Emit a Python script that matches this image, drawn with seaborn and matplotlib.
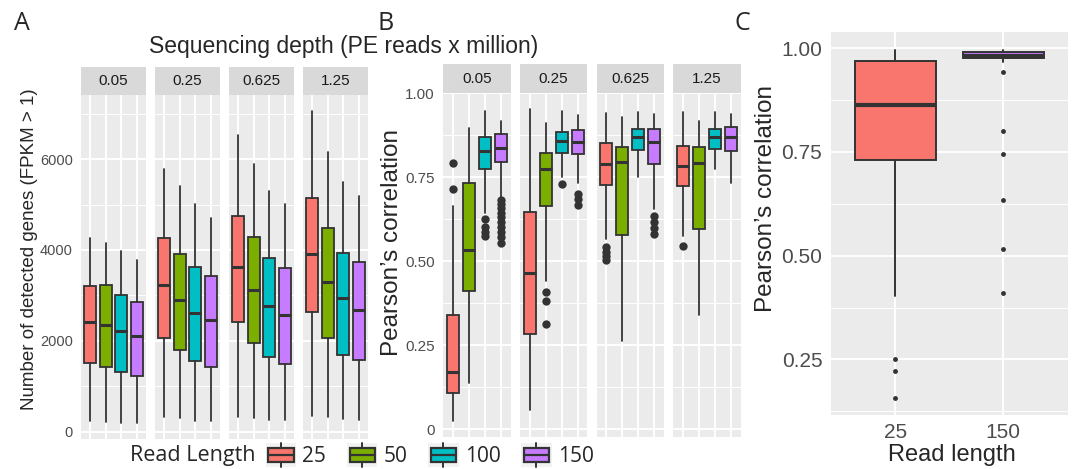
import numpy as np
import seaborn as sns
import matplotlib
matplotlib.use('Agg')
import matplotlib.pyplot as plt
from matplotlib.patches import Rectangle, Patch
from matplotlib.lines import Line2D
from matplotlib.legend_handler import HandlerBase
from matplotlib.ticker import FixedLocator

depths = ['0.05', '0.25', '0.625', '1.25']
read_lengths = ['25', '50', '100', '150']

# panel A - detected genes, one row per depth, one value per read length
genes_low = [[242, 220, 198, 198], [315, 293, 242, 227], [329, 300, 263, 263], [351, 315, 278, 263]]
genes_q1 = [[1509, 1421, 1319, 1216], [2066, 1795, 1560, 1421], [2415, 1961, 1654, 1493], [2642, 2071, 1698, 1581]]
genes_med = [[2418, 2352, 2212, 2110], [3223, 2894, 2623, 2454], [3622, 3125, 2766, 2569], [3915, 3300, 2934, 2678]]
genes_q3 = [[3209, 3223, 3004, 2864], [4256, 3919, 3626, 3421], [4757, 4281, 3827, 3593], [5137, 4486, 3944, 3725]]
genes_high = [[4271, 4154, 3971, 3773], [5787, 5407, 5004, 4703], [6535, 5884, 5298, 5020], [7047, 6154, 5503, 5188]]

# panel B - pearson correlation
corr_low = [[0.026, 0.139, 0.643, 0.690], [0.058, 0.441, 0.752, 0.732], [0.566, 0.263, 0.752, 0.655], [0.575, 0.340, 0.774, 0.732]]
corr_q1 = [[0.107, 0.413, 0.774, 0.797], [0.283, 0.666, 0.824, 0.821], [0.726, 0.579, 0.831, 0.790], [0.724, 0.595, 0.833, 0.830]]
corr_med = [[0.170, 0.534, 0.829, 0.836], [0.466, 0.774, 0.858, 0.856], [0.791, 0.796, 0.869, 0.855], [0.784, 0.792, 0.869, 0.869]]
corr_q3 = [[0.340, 0.732, 0.871, 0.878], [0.648, 0.824, 0.886, 0.891], [0.852, 0.841, 0.895, 0.895], [0.843, 0.840, 0.895, 0.900]]
corr_high = [[0.666, 0.896, 0.948, 0.919], [0.953, 0.911, 0.948, 0.935], [0.943, 0.929, 0.945, 0.938], [0.946, 0.918, 0.944, 0.939]]
corr_fliers = [
    [[0.793, 0.715], [], [0.626, 0.602, 0.587, 0.575],
     [0.682, 0.670, 0.658, 0.645, 0.632, 0.618, 0.603, 0.588, 0.573, 0.556]],
    [[], [0.408, 0.383, 0.314], [0.731], [0.702, 0.685, 0.668]],
    [[0.544, 0.529, 0.515, 0.504], [], [], [0.635, 0.618, 0.600, 0.583]],
    [[0.547], [], [], []],
]

# panel C
c_labels = ['25', '150']
c_low = [0.404, 0.968]
c_q1 = [0.731, 0.976]
c_med = [0.864, 0.982]
c_q3 = [0.969, 0.990]
c_high = [0.996, 0.996]
c_fliers = [[0.252, 0.222, 0.158], [0.944, 0.801, 0.746, 0.634, 0.515, 0.409]]

colors = ['#F8766D', '#7CAE00', '#00BFC4', '#C77CFF']
ink = '#333333'

sns.set_theme(style='darkgrid', rc={'axes.facecolor': '#EBEBEB', 'grid.color': 'white'})
plt.rcParams['font.family'] = ['Liberation Sans', 'DejaVu Sans']

W, H = 1072, 469
fig = plt.figure(figsize=(W / 100, H / 100), dpi=100)
fig.patch.set_facecolor('white')


def px_axes(x0, y0, x1, y1):
    return fig.add_axes([x0 / W, 1 - y1 / H, (x1 - x0) / W, (y1 - y0) / H])


def make_stats(lo, q1, med, q3, hi, fl=None):
    out = []
    for i in range(len(lo)):
        out.append(dict(whislo=lo[i], q1=q1[i], med=med[i], q3=q3[i], whishi=hi[i],
                        fliers=fl[i] if fl else []))
    return out


def draw_boxes(ax, stats, cols, lw=1.3, med_lw=2.2, fsize=6):
    bp = ax.bxp(stats, positions=np.arange(len(stats)), widths=0.75, patch_artist=True,
                showcaps=False,
                boxprops=dict(edgecolor=ink, linewidth=lw),
                whiskerprops=dict(color=ink, linewidth=lw),
                medianprops=dict(color=ink, linewidth=med_lw, solid_capstyle='butt'),
                flierprops=dict(marker='o', markerfacecolor=ink, markeredgecolor='none',
                                markersize=fsize))
    for patch, c in zip(bp['boxes'], cols):
        patch.set_facecolor(c)


def style(ax, n, ylim, yticks, ylabels, minor, show_y, lsize=10.5):
    ax.set_facecolor('#EBEBEB')
    for s in ax.spines.values():
        s.set_visible(False)
    ax.set_xlim(-0.6, n - 0.4)
    ax.set_ylim(ylim)
    ax.set_xticks(np.arange(n))
    ax.set_yticks(yticks)
    ax.set_yticklabels(ylabels)
    ax.yaxis.set_minor_locator(FixedLocator(minor))
    ax.grid(True, which='major', color='white', linewidth=1.4)
    ax.grid(True, which='minor', axis='y', color='white', linewidth=0.7)
    ax.set_axisbelow(True)
    ax.tick_params(which='minor', length=0)
    ax.tick_params(axis='x', length=0, labelbottom=False)
    ax.tick_params(axis='y', length=4 if show_y else 0, width=1.1, color=ink,
                   labelsize=lsize, labelcolor='#4D4D4D', pad=2, labelleft=show_y)


def strip(x0, y0, x1, y1, text):
    s = px_axes(x0, y0, x1, y1)
    s.set_facecolor('#D9D9D9')
    s.grid(False)
    s.set_xticks([])
    s.set_yticks([])
    for sp in s.spines.values():
        sp.set_visible(False)
    s.text(0.5, 0.5, text, ha='center', va='center', transform=s.transAxes,
           fontsize=11, color='#1A1A1A')


# ---- panel A
a_left = [81, 155, 229, 303]
for i, d in enumerate(depths):
    x0 = a_left[i]
    ax = px_axes(x0, 95, x0 + 65, 439)
    st = make_stats(genes_low[i], genes_q1[i], genes_med[i], genes_q3[i], genes_high[i])
    draw_boxes(ax, st, colors)
    style(ax, 4, (-160, 7410), [0, 2000, 4000, 6000], ['0', '2000', '4000', '6000'],
          [1000, 3000, 5000, 7000], i == 0)
    strip(x0, 67, x0 + 65, 95, d)

fig.text(30 / W, 1 - 249 / H, 'Number of detected genes (FPKM > 1)', rotation=90,
         ha='center', va='center', fontsize=13.5)

# ---- panel B
b_left = [443.3, 520, 596.7, 673.3]
for i, d in enumerate(depths):
    x0 = b_left[i]
    ax = px_axes(x0, 92.7, x0 + 67.3, 436.5)
    st = make_stats(corr_low[i], corr_q1[i], corr_med[i], corr_q3[i], corr_high[i], corr_fliers[i])
    draw_boxes(ax, st, colors, fsize=6)
    style(ax, 4, (-0.021, 1.002), [0, 0.25, 0.5, 0.75, 1.0], ['0', '0.25', '0.50', '0.75', '1.00'],
          [0.125, 0.375, 0.625, 0.875], i == 0, lsize=11)
    strip(x0, 64.3, x0 + 67.3, 92.7, d)

fig.text(392 / W, 1 - 242 / H, 'Pearson\u2019s correlation', rotation=90,
         ha='center', va='center', fontsize=17.5)

fig.text(344 / W, 1 - 47 / H, 'Sequencing depth (PE reads x million)',
         ha='center', va='center', fontsize=16.5)

# ---- panel C
axc = px_axes(830.7, 31.7, 1068, 415)
st = make_stats(c_low, c_q1, c_med, c_q3, c_high, c_fliers)
draw_boxes(axc, st, [colors[0], colors[3]], lw=1.4, med_lw=3, fsize=3.5)
style(axc, 2, (0.116, 1.04), [0.25, 0.5, 0.75, 1.0], ['0.25', '0.50', '0.75', '1.00'],
      [0.125, 0.375, 0.625, 0.875], True, lsize=15)
axc.tick_params(axis='x', length=3.5, width=1.1, color=ink, labelbottom=True,
                labelsize=15, labelcolor='#4D4D4D', pad=2)
axc.set_xticklabels(c_labels)
fig.text(766 / W, 1 - 199 / H, 'Pearson\u2019s correlation', rotation=90,
         ha='center', va='center', fontsize=17.5)
fig.text(952 / W, 1 - 455 / H, 'Read length', ha='center', va='center', fontsize=17)

# ---- panel letters
for lbl, x in [('A', 22), ('B', 386), ('C', 742)]:
    fig.text(x / W, 1 - 24 / H, lbl, ha='center', va='center', fontsize=18,
             family=['Open Sans', 'DejaVu Sans'])


# ---- legend
class BoxKey(HandlerBase):
    def create_artists(self, legend, orig_handle, xdescent, ydescent, width, height, fontsize, trans):
        x0, y0 = -xdescent, -ydescent
        bg = Rectangle((x0, y0), width, height, facecolor='#F2F2F2', edgecolor='none', transform=trans)
        bx = Rectangle((x0 + 0.08 * width, y0 + 0.22 * height), 0.84 * width, 0.56 * height,
                       facecolor=orig_handle.get_facecolor(), edgecolor=ink, linewidth=1.6,
                       transform=trans)
        med = Line2D([x0 + 0.08 * width, x0 + 0.92 * width], [y0 + 0.5 * height] * 2,
                     color=ink, linewidth=1.6, transform=trans)
        w1 = Line2D([x0 + 0.5 * width] * 2, [y0, y0 + 0.22 * height], color=ink,
                    linewidth=1.4, transform=trans)
        w2 = Line2D([x0 + 0.5 * width] * 2, [y0 + 0.78 * height, y0 + height], color=ink,
                    linewidth=1.4, transform=trans)
        return [bg, bx, med, w1, w2]


fig.text(130 / W, 1 - 455 / H, 'Read Length', ha='left', va='center', fontsize=15.5,
         family=['Open Sans', 'DejaVu Sans'])
handles = [Patch(facecolor=c) for c in colors]
fig.legend(handles, read_lengths, handler_map={Patch: BoxKey()}, loc='center left',
           bbox_to_anchor=(266 / W, 1 - 455 / H), ncol=4, frameon=False,
           prop={'family': ['Open Sans', 'DejaVu Sans'], 'size': 15},
           handlelength=1.45, handleheight=1.4, handletextpad=0.3, columnspacing=1.0,
           borderpad=0, borderaxespad=0)

fig.savefig('out.png', dpi=100, facecolor='white')
